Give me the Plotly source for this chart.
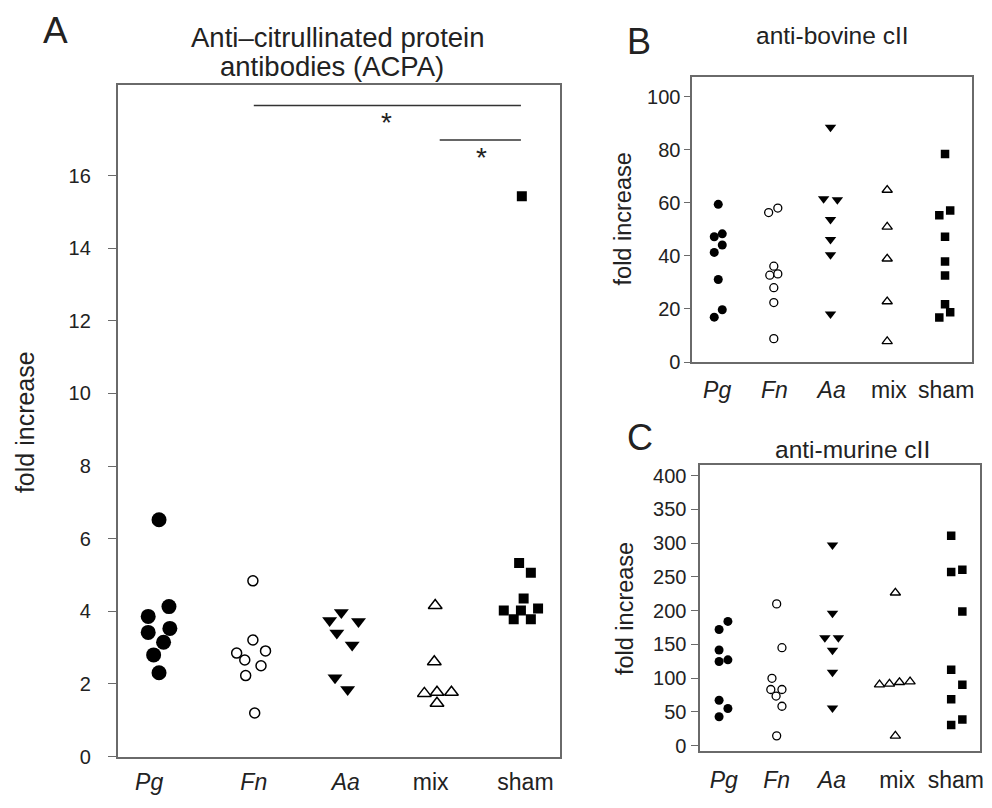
import plotly.graph_objects as go

# ---------------- data ----------------
groups = ["Pg", "Fn", "Aa", "mix", "sham"]
tick_text = ["<i>Pg</i>", "<i>Fn</i>", "<i>Aa</i>", "mix", "sham"]

# Panel A: ACPA fold increase
acpa_pg = [6.52, 4.13, 3.86, 3.42, 3.53, 3.15, 2.80, 2.31]
acpa_fn = [4.84, 3.21, 2.85, 2.91, 2.66, 2.50, 2.23, 1.20]
acpa_aa = [3.97, 3.75, 3.72, 3.40, 3.07, 2.17, 1.85]
acpa_mix = [4.16, 2.61, 1.74, 1.77, 1.77, 1.47]
acpa_sham = [15.43, 5.33, 5.06, 4.35, 4.02, 4.02, 4.08, 3.78, 3.78]

# Panel B: anti-bovine cII
bov_pg = [59.4, 47.2, 48.3, 44.1, 41.3, 31.1, 19.7, 16.9]
bov_fn = [56.3, 58.0, 36.1, 32.7, 33.2, 28.0, 22.4, 8.8]
bov_aa = [88.4, 61.5, 61.1, 53.7, 46.2, 40.4, 18.1]
bov_mix = [64.8, 50.9, 38.9, 22.8, 7.8]
bov_sham = [78.4, 55.3, 57.1, 47.2, 37.9, 32.6, 21.8, 18.7, 16.8]

# Panel C: anti-murine cII
mur_pg = [184.2, 172.1, 141.8, 124.7, 127.2, 67.3, 55.1, 42.9]
mur_fn = [210.1, 145.2, 99.9, 83.3, 83.3, 73.6, 58.5, 14.6]
mur_aa = [297.3, 196.4, 159.8, 159.8, 141.3, 108.7, 56.0]
mur_mix = [226.6, 90.6, 91.6, 94.0, 95.0, 14.6]
mur_sham = [311.0, 257.3, 260.7, 198.8, 112.6, 90.2, 68.7, 39.0, 30.7]

# horizontal jitter (category units) as drawn in the figure
jit_a = [
    [0.01, 0.12, -0.11, -0.11, 0.13, 0.06, -0.05, 0.01],
    [0.05, 0.05, -0.13, 0.19, -0.04, 0.14, -0.03, 0.07],
    [0.03, -0.10, 0.22, -0.02, 0.15, -0.04, 0.10],
    [0.07, 0.06, -0.05, 0.09, 0.25, 0.09],
    [0.03, 0.00, 0.13, 0.05, -0.17, 0.02, 0.21, -0.06, 0.13],
]
jit_b = [
    [0.02, -0.05, 0.09, 0.09, -0.05, 0.02, 0.09, -0.05],
    [-0.10, 0.06, -0.01, -0.08, 0.06, -0.01, -0.01, -0.01],
    [-0.02, -0.14, 0.10, -0.02, -0.02, -0.02, -0.02],
    [-0.03, -0.03, -0.03, -0.03, -0.03],
    [-0.02, -0.12, 0.07, -0.02, -0.02, -0.02, -0.02, 0.07, -0.12],
]
jit_c = [
    [0.15, 0.0, 0.0, 0.0, 0.15, 0.0, 0.15, 0.0],
    [-0.02, 0.07, -0.10, -0.12, 0.07, -0.03, 0.07, -0.02],
    [-0.07, -0.07, -0.20, 0.03, -0.07, -0.07, -0.07],
    [0.0, -0.27, -0.10, 0.07, 0.25, 0.0],
    [-0.05, -0.05, 0.14, 0.14, -0.05, 0.14, -0.05, 0.14, -0.05],
]

FONT = "Liberation Sans, Arial, sans-serif"
TXT = "#222222"
AX = "#6a6a6a"

fig = go.Figure()


def add_panel(series, jitters, xa, ya, styles):
    for gi, (vals, jit, st) in enumerate(zip(series, jitters, styles)):
        fig.add_trace(go.Scatter(
            x=[gi + 1 + j for j in jit], y=vals, mode="markers",
            marker=st, xaxis=xa, yaxis=ya, showlegend=False, hoverinfo="y",
        ))


stA = [
    dict(symbol="circle", size=15, color="black"),
    dict(symbol="circle", size=10, color="white", line=dict(width=1.5, color="black")),
    dict(symbol="triangle-down", size=13, color="black"),
    dict(symbol="triangle-up", size=12, color="white", line=dict(width=1.5, color="black")),
    dict(symbol="square", size=10, color="black"),
]
add_panel([acpa_pg, acpa_fn, acpa_aa, acpa_mix, acpa_sham], jit_a, "x", "y", stA)

stB = [
    dict(symbol="circle", size=9, color="black"),
    dict(symbol="circle", size=8, color="white", line=dict(width=1.3, color="black")),
    dict(symbol="triangle-down", size=10, color="black"),
    dict(symbol="triangle-up", size=9, color="white", line=dict(width=1.3, color="black")),
    dict(symbol="square", size=8.5, color="black"),
]
add_panel([bov_pg, bov_fn, bov_aa, bov_mix, bov_sham], jit_b, "x2", "y2", stB)
add_panel([mur_pg, mur_fn, mur_aa, mur_mix, mur_sham], jit_c, "x3", "y3", stB)

W, H = 992, 808


def xd(a, b):
    return [a / W, b / W]


def yd(top, bottom):
    return [1 - bottom / H, 1 - top / H]


common_x = dict(showline=True, mirror=True, linecolor=AX, linewidth=1.5, showgrid=False,
                zeroline=False, ticks="", tickmode="array", ticktext=tick_text,
                tickfont=dict(family=FONT, size=23, color=TXT), fixedrange=True)
common_y = dict(showline=True, mirror=True, linecolor=AX, linewidth=1.5, showgrid=False,
                zeroline=False, ticks="outside", tickcolor=AX, tickwidth=1.3,
                tickmode="array", fixedrange=True,
                tickfont=dict(family=FONT, size=20, color=TXT))

fig.update_layout(
    width=W, height=H, margin=dict(l=0, r=0, t=0, b=0),
    paper_bgcolor="white", plot_bgcolor="white",
    font=dict(family=FONT, color=TXT),
    xaxis=dict(common_x, domain=xd(118, 562), range=[0.55, 5.45], anchor="y",
               tickvals=[0.90, 2.06, 3.08, 4.02, 5.07], ticklabelstandoff=4),
    yaxis=dict(common_y, domain=yd(86, 767), range=[0, 18.5], anchor="x", ticklen=8,
               ticklabelstandoff=13, tickvals=list(range(0, 17, 2))),
    xaxis2=dict(common_x, domain=xd(695, 976), range=[0.565, 5.452], anchor="y2",
                tickvals=[1, 2, 3.0, 4.0, 5.0], ticklabelstandoff=7),
    yaxis2=dict(common_y, domain=yd(78, 367), range=[0, 107.4], anchor="x2", ticklen=6,
                ticklabelstandoff=0, tickvals=list(range(0, 101, 20))),
    xaxis3=dict(common_x, domain=xd(703, 984), range=[0.678, 5.441], anchor="y3",
                tickvals=[1.08, 1.98, 2.92, 4.03, 5.03], ticklabelstandoff=8),
    yaxis3=dict(common_y, domain=yd(471, 761), range=[-7.3, 416.5], anchor="x3", ticklen=7,
                ticklabelstandoff=1, tickvals=list(range(0, 401, 50))),
)

# significance bars in panel A
sig = [(2.06, 5.02, 17.93, 3.53, 17.45), (4.12, 5.02, 16.98, 4.58, 16.5)]
for x0, x1, yy, xs, ys in sig:
    fig.add_shape(type="line", xref="x", yref="y", x0=x0, x1=x1, y0=yy, y1=yy,
                  line=dict(color="#333", width=1.5))
    fig.add_annotation(x=xs, y=ys, xref="x", yref="y", text="*", showarrow=False,
                       font=dict(family=FONT, size=28, color=TXT))


# titles, axis titles and panel letters
def ptext(x, y, text, size, angle=0):
    fig.add_annotation(x=x / W, y=1 - y / H, xref="paper", yref="paper", text=text,
                       showarrow=False, font=dict(family=FONT, size=size, color=TXT),
                       xanchor="center", yanchor="middle", textangle=angle)


ptext(339, 38, "Anti\u2013citrullinated protein", 27.5)
ptext(333, 67, "antibodies (ACPA)", 27.5)
ptext(836, 36, "anti-bovine cII", 24.5)
ptext(856, 456, "anti-murine cII", 24.5)
ptext(56, 31, "A", 37)
ptext(642, 42, "B", 36)
ptext(643, 444, "C", 36)
ptext(25, 428, "fold increase", 25, -90)
ptext(625, 222, "fold increase", 23.5, -90)
ptext(627, 617, "fold increase", 23.5, -90)

fig.write_html("out.html", config={"displayModeBar": False},
               post_script="document.body.style.margin='0px';document.body.style.padding='0px';")
